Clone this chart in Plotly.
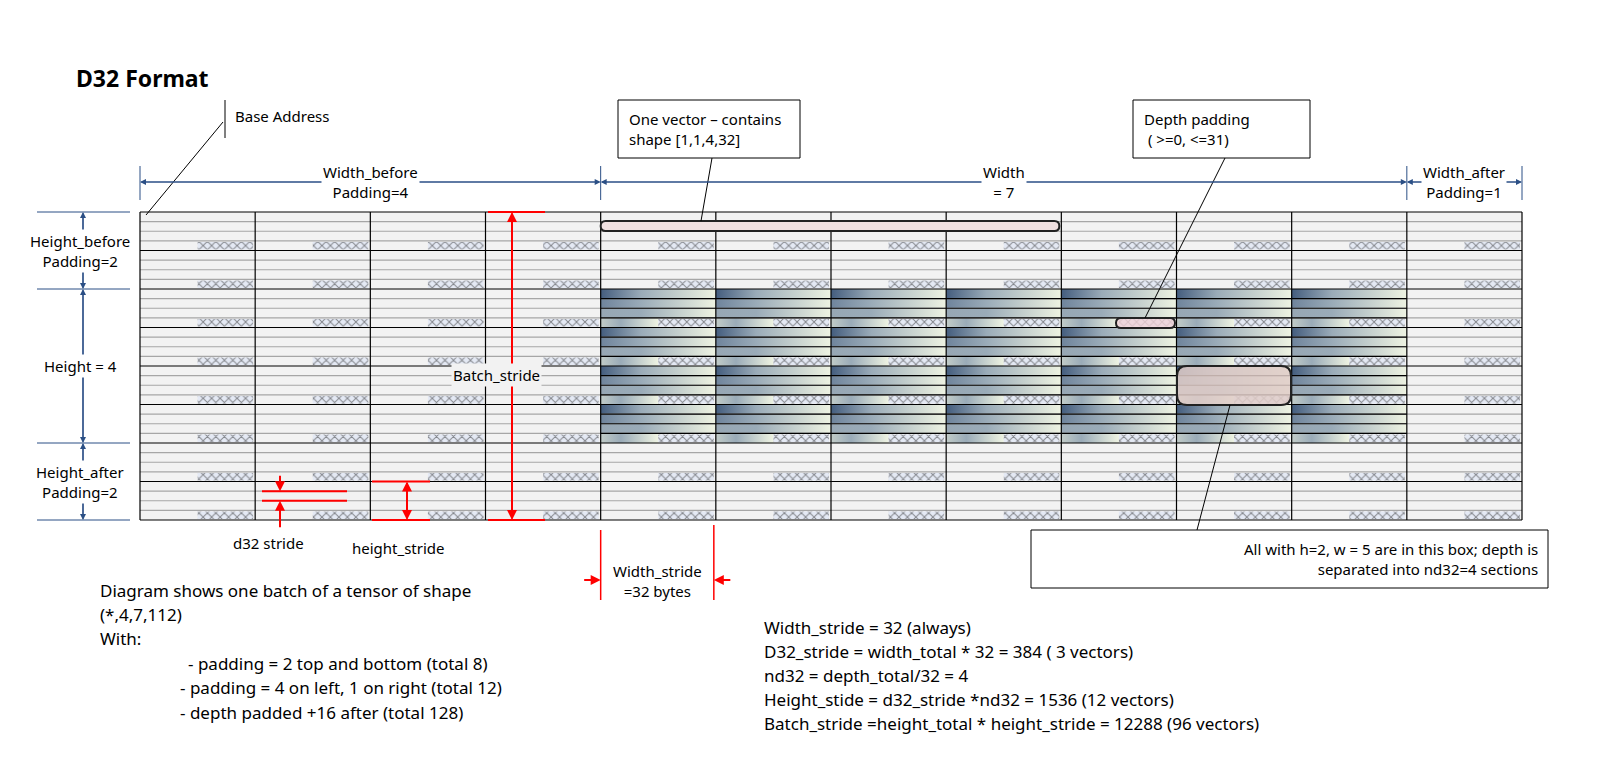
import plotly.graph_objects as go

# layout of the tensor (columns: width_before, width, width_after; rows: height_before, height, height_after)
COL_GROUPS = [4, 7, 1]
ROW_GROUPS = [2, 4, 2]
ND32 = 4
TITLE = "D32 Format"
LEFT_NOTES = ["Diagram shows one batch of a tensor of shape", "(*,4,7,112)", "With:",
              "  - padding = 2 top and bottom (total 8)",
              " - padding = 4 on left, 1 on right (total 12)",
              " - depth padded +16 after (total 128)"]
RIGHT_NOTES = ["Width_stride = 32 (always)",
               "D32_stride = width_total * 32 = 384 ( 3 vectors)",
               "nd32 = depth_total/32 = 4",
               "Height_stide = d32_stride *nd32 = 1536 (12 vectors)",
               "Batch_stride =height_total * height_stride = 12288 (96 vectors)"]

X0, X1, Y0, Y1 = 140, 1522, 212, 520
ncol, nrow = sum(COL_GROUPS), sum(ROW_GROUPS)
cw, rh = (X1 - X0) / ncol, (Y1 - Y0) / nrow
sh = rh / ND32
NAVY = "#2b4f85"
RED = "#ff0000"
FONT = "Noto Sans"

fig = go.Figure()
shapes, ann = [], []


def rect(x0, y0, x1, y1, **kw):
    shapes.append(dict(type="rect", x0=x0, y0=y0, x1=x1, y1=y1, xref="x", yref="y", **kw))


def line(x0, y0, x1, y1, color="black", width=1):
    shapes.append(dict(type="line", x0=x0, y0=y0, x1=x1, y1=y1, xref="x", yref="y",
                       line=dict(color=color, width=width)))


def rrect(x0, y0, x1, y1, r, fill, width=2):
    p = (f"M{x0+r},{y0} L{x1-r},{y0} Q{x1},{y0} {x1},{y0+r} L{x1},{y1-r} Q{x1},{y1} {x1-r},{y1} "
         f"L{x0+r},{y1} Q{x0},{y1} {x0},{y1-r} L{x0},{y0+r} Q{x0},{y0} {x0+r},{y0} Z")
    shapes.append(dict(type="path", path=p, xref="x", yref="y", fillcolor=fill,
                       line=dict(color="#222", width=width), layer="above"))


def arrow(x, y, ax, ay, color, width=1.2, size=1):
    ann.append(dict(x=x, y=y, ax=ax, ay=ay, xref="x", yref="y", axref="x", ayref="y", text="",
                    showarrow=True, arrowhead=2, arrowsize=size, arrowwidth=width, arrowcolor=color))


def text(x, y, t, size=15, anchor="center", bg=None, bold=False, align="center"):
    ann.append(dict(x=x, y=y, xref="x", yref="y", text=f"<b>{t}</b>" if bold else t, showarrow=False,
                    xanchor=anchor, yanchor="middle", align=align, bgcolor=bg,
                    font=dict(family=FONT, size=size, color="black")))


# background
rect(X0, Y0, X1, Y1, fillcolor="#f2f2f2", line=dict(width=0), layer="below")

c_lo, c_hi = COL_GROUPS[0], COL_GROUPS[0] + COL_GROUPS[1]
r_lo, r_hi = ROW_GROUPS[0], ROW_GROUPS[0] + ROW_GROUPS[1]
starts = ["#445d7e", "#6f849c", "#97a7b4", "#c2ccc8"]

# gradient data cells
for r in range(r_lo, r_hi):
    for c in range(c_lo, c_hi):
        for s in range(ND32):
            xa = X0 + c * cw
            xb = xa + (cw if s < ND32 - 1 else cw / 2)
            ya = Y0 + r * rh + s * sh
            yb = ya + sh
            fig.add_trace(go.Scatter(x=[xa, xb, xb, xa, xa], y=[ya, ya, yb, yb, ya], mode="lines",
                                     fill="toself", line=dict(width=0), hoverinfo="skip",
                                     fillgradient=dict(type="horizontal",
                                                       colorscale=[[0, starts[s]], [0.35, "#9aabb8"],
                                                                   [1, "#eef3e2"]])))

# hatched depth-padding cells
hx, hy = [], []
for r in range(nrow):
    for c in range(ncol):
        xa = X0 + c * cw + cw / 2
        xb = X0 + (c + 1) * cw - 2
        ya = Y0 + r * rh + 3 * sh + 1
        yb = Y0 + (r + 1) * rh - 1
        hx += [xa, xb, xb, xa, xa, None]
        hy += [ya, ya, yb, yb, ya, None]
fig.add_trace(go.Scatter(x=hx, y=hy, mode="lines", fill="toself", line=dict(width=0), hoverinfo="skip",
                         fillcolor="#dde4f0",
                         fillpattern=dict(shape="x", fgcolor="#222", bgcolor="#e4e9f4", size=6, solidity=0.3)))

# grid lines
for r in range(nrow):
    for s in range(1, ND32):
        y = Y0 + r * rh + s * sh
        line(X0, y, X1, y, "#a6a6a6", 1.2)
        if r_lo <= r < r_hi:
            line(X0 + c_lo * cw, y, X0 + c_hi * cw, y, "black", 1.2)
for r in range(nrow + 1):
    line(X0, Y0 + r * rh, X1, Y0 + r * rh, "black", 1.2)
for c in range(ncol + 1):
    line(X0 + c * cw, Y0, X0 + c * cw, Y1, "black", 1.2)

# top dimensions
bounds = [X0, X0 + c_lo * cw, X0 + c_hi * cw, X1]
for x in bounds:
    line(x, 166, x, 200, NAVY, 1)
labels = ["Width_before<br>Padding=4", "Width<br>= 7", "Width_after<br>Padding=1"]
for i in range(3):
    arrow(bounds[i], 182, bounds[i + 1], 182, NAVY)
    arrow(bounds[i + 1], 182, bounds[i], 182, NAVY)
    text((bounds[i] + bounds[i + 1]) / 2, 182, labels[i], bg="white")

# left dimensions
yb_ = [Y0, Y0 + r_lo * rh, Y0 + r_hi * rh, Y1]
for y in yb_:
    line(37, y, 130, y, NAVY, 1)
llabels = ["Height_before<br>Padding=2", "Height = 4", "Height_after<br>Padding=2"]
for i in range(3):
    arrow(83, yb_[i], 83, yb_[i + 1], NAVY)
    arrow(83, yb_[i + 1], 83, yb_[i], NAVY)
    text(80, (yb_[i] + yb_[i + 1]) / 2, llabels[i], bg="white")

# batch stride
line(488, Y0, 545, Y0, RED, 2)
line(488, Y1, 545, Y1, RED, 2)
arrow(512, Y0, 512, Y1, RED, 2)
arrow(512, Y1, 512, Y0, RED, 2)
text(496, 375, "Batch_stride", bg="#f2f2f2")

# d32 stride
ya_d = Y0 + 7 * rh + sh
line(262, ya_d, 347, ya_d, RED, 2)
line(262, ya_d + sh, 347, ya_d + sh, RED, 2)
arrow(280, ya_d, 280, ya_d - 17, RED, 2)
arrow(280, ya_d + sh, 280, ya_d + sh + 28, RED, 2)
text(268, 543, "d32 stride")

# height stride
line(372, Y1 - rh, 430, Y1 - rh, RED, 2)
line(372, Y1, 430, Y1, RED, 2)
arrow(407, Y1 - rh, 407, Y1, RED, 2)
arrow(407, Y1, 407, Y1 - rh, RED, 2)
text(398, 548, "height_stride")

# width stride
wx0, wx1 = X0 + c_lo * cw, X0 + (c_lo + 1) * cw - 2
line(wx0, 530, wx0, 600, RED, 1.5)
line(wx1, 525, wx1, 600, RED, 1.5)
arrow(wx0, 580, wx0 - 18, 580, RED, 2)
arrow(wx1, 580, wx1 + 18, 580, RED, 2)
text((wx0 + wx1) / 2, 581, "Width_stride<br>=32 bytes")

# callouts
rrect(X0 + c_lo * cw, 221, X0 + (c_lo + 4) * cw - 2, 231, 5, "#f0e0e0")
line(712, 158, 701, 221, "black", 1)
rect(618, 100, 800, 158, fillcolor="white", line=dict(color="black", width=1))
text(627, 129, "One vector – contains<br>shape [1,1,4,32]", anchor="left", align="left")

rrect(1116, 318, 1175, 328, 5, "rgba(240,210,215,0.8)")
line(1225, 158, 1145, 318, "black", 1)
rect(1133, 100, 1310, 158, fillcolor="white", line=dict(color="black", width=1))
text(1142, 129, "Depth padding<br> ( >=0, <=31)", anchor="left", align="left")

rrect(1177, 366, 1291, 405, 10, "rgba(225,205,200,0.85)")
line(1230, 405, 1197, 530, "black", 1)
rect(1031, 530, 1548, 588, fillcolor="white", line=dict(color="black", width=1))
text(1540, 559, "All with h=2, w = 5 are in this box; depth is<br>separated into nd32=4 sections",
     anchor="right", align="right")

# base address
line(225, 100, 225, 138, "black", 1)
line(223, 122, 146, 215, "black", 1)
text(233, 116, "Base Address", anchor="left")

text(74, 78, TITLE, 23, anchor="left", bold=True)
for i, t in enumerate(LEFT_NOTES):
    indent = [0, 0, 0, 88, 80, 80][i]
    text(98 + indent, 590 + i * 24.4, t.strip(), 17, anchor="left")
for i, t in enumerate(RIGHT_NOTES):
    text(762, 627 + i * 24, t, 17, anchor="left")

# page body has an 8px margin: offset the axes so data coordinates equal page pixels
W, H = 1590, 763
fig.update_layout(width=W, height=H, margin=dict(l=0, r=0, t=0, b=0),
                  plot_bgcolor="white", paper_bgcolor="white", showlegend=False,
                  xaxis=dict(range=[8, 8 + W], visible=False, fixedrange=True),
                  yaxis=dict(range=[8 + H, 8], visible=False, fixedrange=True),
                  shapes=shapes, annotations=ann)
fig.write_html("out.html")
